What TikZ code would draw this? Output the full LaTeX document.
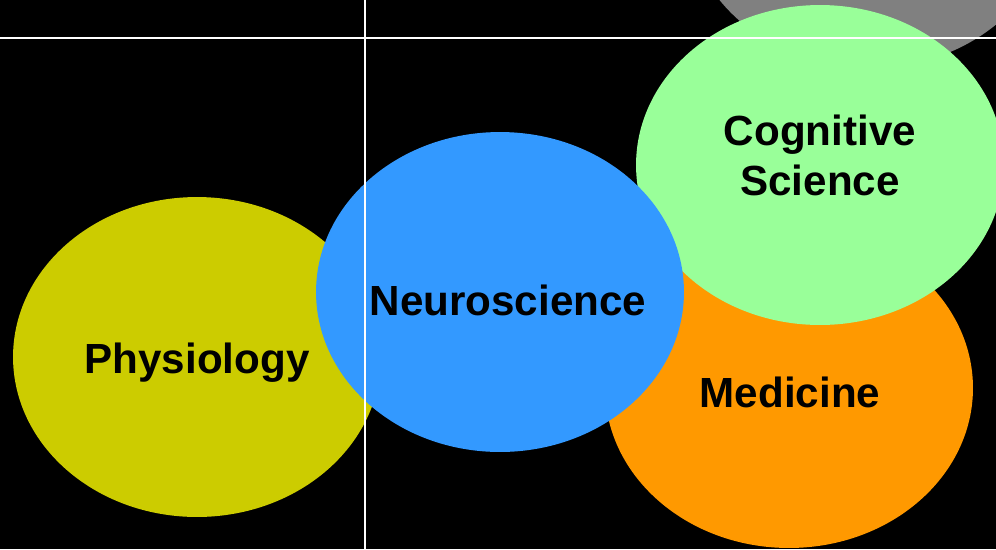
\documentclass[tikz,border=0pt]{standalone}
\usepackage{fontspec}
\setmainfont{Liberation Sans}
\usetikzlibrary{shapes.geometric}
\definecolor{FieldYellow}{HTML}{CCCC00}
\definecolor{FieldBlue}{HTML}{3399FF}
\definecolor{FieldOrange}{HTML}{FF9900}
\definecolor{FieldGreen}{HTML}{99FF99}
\definecolor{FieldGray}{HTML}{808080}

\begin{document}
\begin{tikzpicture}[x=0.02cm,y=-0.02cm]
  \tikzstyle{fieldblob}=[ellipse,inner sep=0pt,minimum width=7.36cm,
    minimum height=6.4cm]
  \tikzstyle{fieldlabel}=[align=center,text=black,inner sep=0pt,
    font=\fontsize{24}{28.5}\selectfont\bfseries]
  \tikzstyle{guideline}=[white,line width=0.04cm]
  \fill[black] (0,0) rectangle (996,549);
  \useasboundingbox (0,0) rectangle (996,549);
  \clip (0,0) rectangle (996,549);
  % the circles, back to front
  \node[fieldblob,fill=FieldGray] (other) at (870,-92) {};
  \node[fieldblob,fill=FieldYellow] (phys) at (197,357) {};
  \node[fieldblob,fill=FieldOrange] (med) at (789,388) {};
  \node[fieldblob,fill=FieldGreen] (cog) at (820,165) {};
  \node[fieldblob,fill=FieldBlue] (neuro) at (500,292) {};
  % their names
  \node[fieldlabel] (physname) at (197,363) {Physiology};
  \node[fieldlabel] (medname) at (790,392) {Medicine};
  \node[fieldlabel] (cogname) at (820,155) {Cognitive\\Science};
  \node[fieldlabel] (neuroname) at (508,300) {Neuroscience};
  % guides
  \draw[guideline] (0,38) -- (996,38);
  \draw[guideline] (365,0) -- (365,549);
\end{tikzpicture}
\end{document}
